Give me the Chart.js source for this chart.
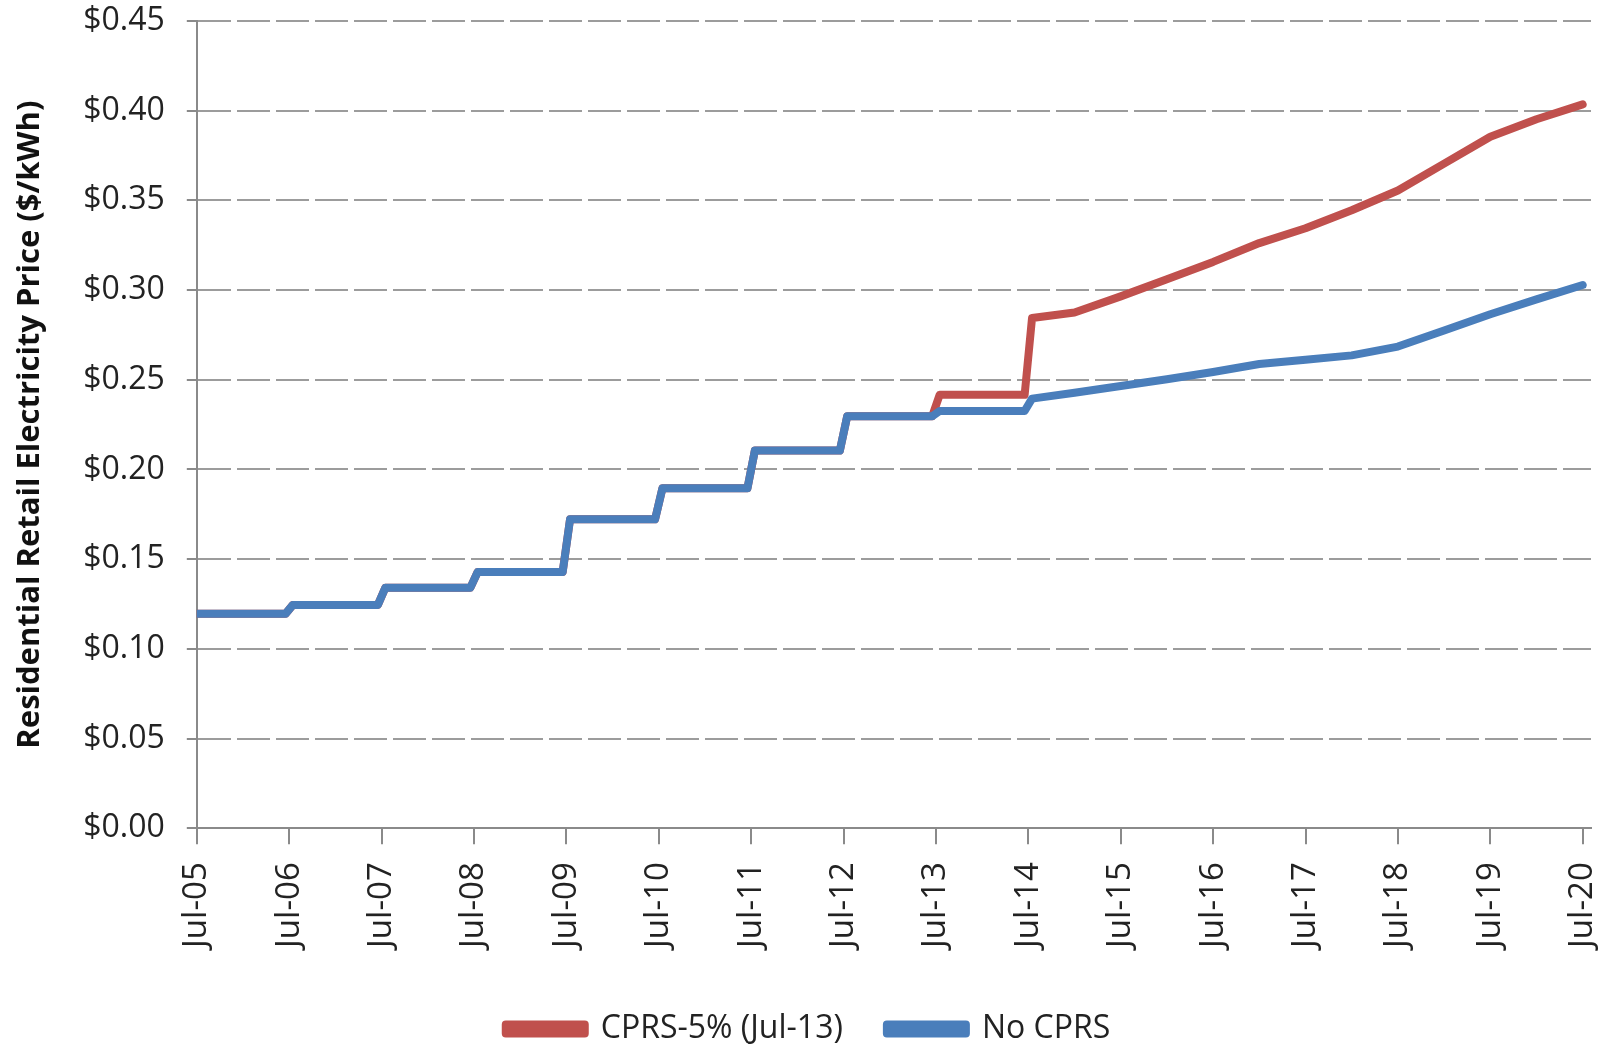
<!DOCTYPE html>
<html>
<head>
<meta charset="utf-8">
<title>Residential Retail Electricity Price</title>
<script src="https://cdn.jsdelivr.net/npm/chart.js@4.4.1/dist/chart.umd.min.js"></script>
<style>
  html, body { margin: 0; padding: 0; background: #fff; }
  #wrap { width: 1612px; height: 1045px; }
</style>
</head>
<body>
<div id="wrap"><canvas id="priceChart" width="1612" height="1045"></canvas></div>
<script>
// tick labels for the x axis, one per year (x value = years since Jul-05)
const xTickLabels = ['Jul-05', 'Jul-06', 'Jul-07', 'Jul-08', 'Jul-09', 'Jul-10', 'Jul-11', 'Jul-12',
  'Jul-13', 'Jul-14', 'Jul-15', 'Jul-16', 'Jul-17', 'Jul-18', 'Jul-19', 'Jul-20'];

const seriesNames = ['CPRS-5% (Jul-13)', 'No CPRS'];

// CPRS-5% scenario ($/kWh)
const cprsYears = [0, 0.96, 1.04, 1.96, 2.04, 2.96, 3.04, 3.96, 4.04, 4.96, 5.04, 5.96, 6.04, 6.96, 7.04,
  7.96, 8.04, 8.96, 9.04, 9.5, 10, 10.5, 11, 11.5, 12, 12.5, 13, 13.5, 14, 14.5, 15];
const cprsPrice = [0.1195, 0.1195, 0.1245, 0.1245, 0.134, 0.134, 0.1428, 0.1428, 0.1722, 0.1722, 0.1895,
  0.1895, 0.2105, 0.2105, 0.2297, 0.2297, 0.2416, 0.2416, 0.2844, 0.2875, 0.2965, 0.306, 0.3157, 0.3262,
  0.3345, 0.3445, 0.3555, 0.3705, 0.3855, 0.3952, 0.4035];

// no CPRS scenario ($/kWh)
const noCprsYears = [0, 0.96, 1.04, 1.96, 2.04, 2.96, 3.04, 3.96, 4.04, 4.96, 5.04, 5.96, 6.04, 6.96, 7.04,
  7.96, 8.04, 8.96, 9.04, 9.5, 10, 10.5, 11, 11.5, 12, 12.5, 13, 13.5, 14, 14.5, 15];
const noCprsPrice = [0.1195, 0.1195, 0.1245, 0.1245, 0.134, 0.134, 0.1428, 0.1428, 0.1722, 0.1722, 0.1895,
  0.1895, 0.2105, 0.2105, 0.2297, 0.2297, 0.2326, 0.2326, 0.2395, 0.2428, 0.2465, 0.2503, 0.2543, 0.2588,
  0.2612, 0.2636, 0.2685, 0.2775, 0.2865, 0.2948, 0.3028];

const toPoints = (xs, ys) => xs.map((x, i) => ({ x: x, y: ys[i] }));

Chart.defaults.font.family = '"Open Sans", "DejaVu Sans", sans-serif';
Chart.defaults.color = '#222';

const gridGrey = '#9c9c9c';
const axisGrey = '#8a8a8a';

const ctx = document.getElementById('priceChart').getContext('2d');
const chart = new Chart(ctx, {
  type: 'line',
  data: {
    datasets: [
      {
        label: seriesNames[0],
        data: toPoints(cprsYears, cprsPrice),
        borderColor: '#C0504D',
        backgroundColor: '#C0504D',
        borderWidth: 8,
        borderCapStyle: 'round',
        borderJoinStyle: 'round',
        pointRadius: 0,
        tension: 0,
        order: 1
      },
      {
        label: seriesNames[1],
        data: toPoints(noCprsYears, noCprsPrice),
        borderColor: '#4A7EBB',
        backgroundColor: '#4A7EBB',
        borderWidth: 8,
        borderCapStyle: 'round',
        borderJoinStyle: 'round',
        pointRadius: 0,
        tension: 0,
        order: 0   // blue sits on top of red where they overlap
      }
    ]
  },
  options: {
    responsive: false,
    animation: false,
    layout: { padding: { top: 0, right: 0, bottom: -10, left: 4 } },
    scales: {
      x: {
        type: 'linear',
        min: 0,
        max: 15.09,
        border: { display: true, color: axisGrey, width: 2 },
        grid: {
          drawOnChartArea: false,
          drawTicks: true,
          tickLength: 16,
          color: axisGrey,
          lineWidth: 2
        },
        ticks: {
          stepSize: 1,
          includeBounds: false,
          autoSkip: false,
          minRotation: 90,
          maxRotation: 90,
          padding: 18,
          font: { size: 33 },
          callback: (v) => xTickLabels[v]
        },
        afterFit: (scale) => {
          scale.height += 3;        // room between the dates and the legend
          scale.paddingRight = 21;
        }
      },
      y: {
        min: 0,
        max: 0.45,
        border: { display: true, color: axisGrey, width: 2, dash: [33, 6] },
        grid: {
          color: gridGrey,
          lineWidth: 2,
          tickLength: 10,
          tickBorderDash: [],
          tickColor: axisGrey
        },
        ticks: {
          stepSize: 0.05,
          padding: 22,
          font: { size: 32 },
          callback: (v) => '$' + v.toFixed(2)
        },
        title: {
          display: true,
          text: 'Residential Retail Electricity Price ($/kWh)',
          font: { size: 31, weight: 'bold' },
          color: '#111',
          padding: { top: 8, bottom: 12 }
        },
        afterFit: (scale) => {
          scale.paddingTop = 21;
          scale.paddingBottom = 0;
        }
      }
    },
    plugins: {
      legend: {
        position: 'bottom',
        labels: {
          boxWidth: 79,
          boxHeight: 9,
          padding: 44,
          font: { size: 32 },
          color: '#222',
          sort: (a, b) => a.datasetIndex - b.datasetIndex
        }
      },
      tooltip: { enabled: false }
    }
  }
});
</script>
</body>
</html>
